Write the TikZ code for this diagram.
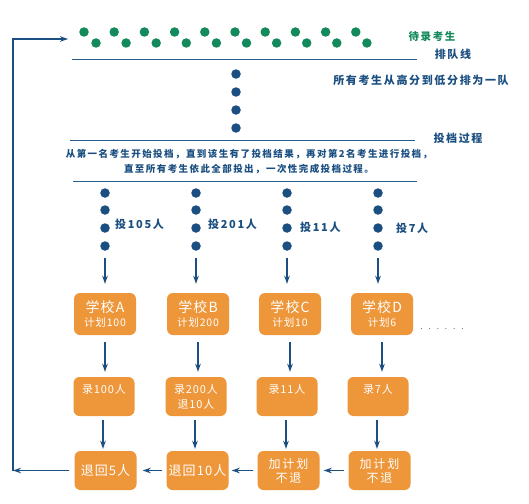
\documentclass[tikz,border=0pt]{standalone}
\usepackage{fontspec}
\newfontfamily\cjk{Noto Sans CJK SC}
\newfontfamily\cjks[LetterSpace=15]{Noto Sans CJK SC}
\newfontfamily\cjkm[LetterSpace=8]{Noto Sans CJK SC}
\usetikzlibrary{arrows.meta}
\definecolor{navy}{HTML}{1B4F81}
\definecolor{lnblue}{HTML}{2A5F8F}
\definecolor{dgreen}{HTML}{128A5C}
\definecolor{boxor}{HTML}{EE963A}
\begin{document}
\begin{tikzpicture}[x=1pt,y=-1pt,
  gdot/.style={circle,fill=dgreen,inner sep=0,minimum size=9.5},
  bdot/.style={circle,fill=navy,inner sep=0,minimum size=9.5},
  rule/.style={draw=lnblue,line width=0.9},
  arr/.style={draw=navy,line width=1.3,-{Stealth[length=8,width=5.5]}},
  sbox/.style={rectangle,rounded corners=6,fill=boxor,text=white,minimum width=62,minimum height=40,inner sep=0,align=center,font=\cjkm\fontsize{11}{15}\selectfont},
  lbl/.style={text=navy,font=\cjks\bfseries\fontsize{11}{13}\selectfont,inner sep=0},
]
\useasboundingbox[fill=white] (0,0) rectangle (529,503);

% waiting students
\foreach \i in {0,...,9} {
  \node[gdot] (gu\i) at (84+30.2*\i,32) {};
  \node[gdot] (gl\i) at (96+30.1*\i,43) {};
}
\node[text=dgreen,font=\cjks\bfseries\fontsize{10.5}{12}\selectfont,inner sep=0] (wait) at (432,37) {待录考生};

% queue line
\coordinate (l1a) at (72,59); \coordinate (l1b) at (417,59);
\draw[rule] (l1a) -- (l1b);
\node[lbl] (pdx) at (453,54) {排队线};
\node[lbl] (pdxd) at (421,80) {所有考生从高分到低分排为一队};

\foreach \j/\yy in {1/74,2/92,3/110,4/128} {
  \node[bdot] (bd\j) at (236,\yy) {};
}

% process line
\coordinate (l2a) at (70,140); \coordinate (l2b) at (415,140);
\draw[rule] (l2a) -- (l2b);
\node[lbl] (tdgc) at (458,138) {投档过程};
\node[lbl,font=\cjks\bfseries\fontsize{9.5}{15}\selectfont,align=center] (desc) at (249,161.5)
  {从第一名考生开始投档，直到该生有了投档结果，再对第2名考生进行投档，\\直至所有考生依此全部投出，一次性完成投档过程。};
\coordinate (l3a) at (73,181); \coordinate (l3b) at (417,181);
\draw[rule] (l3a) -- (l3b);

% columns of dots
\foreach \c/\xx in {1/105,2/196,3/287,4/378} {
  \foreach \j/\yy in {1/193,2/210,3/228,4/246} {
    \node[bdot] (cd\c\j) at (\xx,\yy) {};
  }
}
\node[lbl,anchor=west] (t1) at (115,224) {投105人};
\node[lbl,anchor=west] (t2) at (208,224) {投201人};
\node[lbl,anchor=west] (t3) at (300,227) {投11人};
\node[lbl,anchor=west] (t4) at (396,228) {投7人};

% row 1: schools
\foreach \n/\xx/\s/\p in {a/105/A/100,b/198/B/200,c/290/C/10,d/382/D/6} {
  \node[sbox,minimum height=42] (s1\n) at (\xx,314)
    {{\fontsize{14}{14}\selectfont 学校\s}\\[-1pt]{\fontsize{10.5}{12}\selectfont 计划\p}};
}
\node[text=navy!80!gray,font=\fontsize{10}{10}\selectfont,inner sep=0] (more) at (442,329)
  {.\hspace{5.4pt}.\hspace{5.4pt}.\hspace{5.4pt}.\hspace{5.4pt}.\hspace{5.4pt}.};

% row 2: admitted
\node[sbox,minimum width=61,minimum height=39] (r2a) at (104,396.5) {录100人\\\phantom{退10人}};
\node[sbox,minimum width=61,minimum height=39] (r2b) at (196,396.5) {录200人\\退10人};
\node[sbox,minimum width=61,minimum height=39] (r2c) at (287,396.5) {录11人\\\phantom{退10人}};
\node[sbox,minimum width=61,minimum height=39] (r2d) at (378,396.5) {录7人\\\phantom{退10人}};

% row 3: results
\node[sbox,minimum height=39,font=\cjkm\fontsize{13}{15}\selectfont] (r3a) at (105.5,470.5) {退回5人};
\node[sbox,minimum height=39,font=\cjkm\fontsize{13}{15}\selectfont] (r3b) at (197.5,470.5) {退回10人};
\node[sbox,minimum height=39,font=\cjks\fontsize{12}{14}\selectfont] (r3c) at (288.5,470.5) {加计划\\不退};
\node[sbox,minimum height=39,font=\cjks\fontsize{12}{14}\selectfont] (r3d) at (379.5,470.5) {加计划\\不退};

% arrows
\foreach \c/\n in {1/a,2/b,3/c,4/d} {
  \draw[arr,shorten <=7,shorten >=9] (cd\c4.south) -- (cd\c4.south |- s1\n.north);
  \draw[arr,shorten <=7,shorten >=5] (s1\n.south) -- (s1\n.south |- r2\n.north);
  \draw[arr,shorten <=4,shorten >=2] ([xshift=-1]r2\n.south) -- ([xshift=-1]r2\n.south |- r3\n.north);
}
\draw[arr,shorten <=4,shorten >=4] (r3d.west) -- (r3c.east);
\draw[arr,shorten <=4,shorten >=3] (r3c.west) -- (r3b.east);
\draw[arr,shorten <=4,shorten >=6] (r3b.west) -- (r3a.east);
\coordinate (cl) at (13,470.5);
\coordinate (ct) at (13,39);
\coordinate (ce) at (68,39);
\draw[arr,shorten <=5] (r3a.west) -- (cl);
\draw[arr] (cl) -- (ct) -- (ce);
\end{tikzpicture}
\end{document}
